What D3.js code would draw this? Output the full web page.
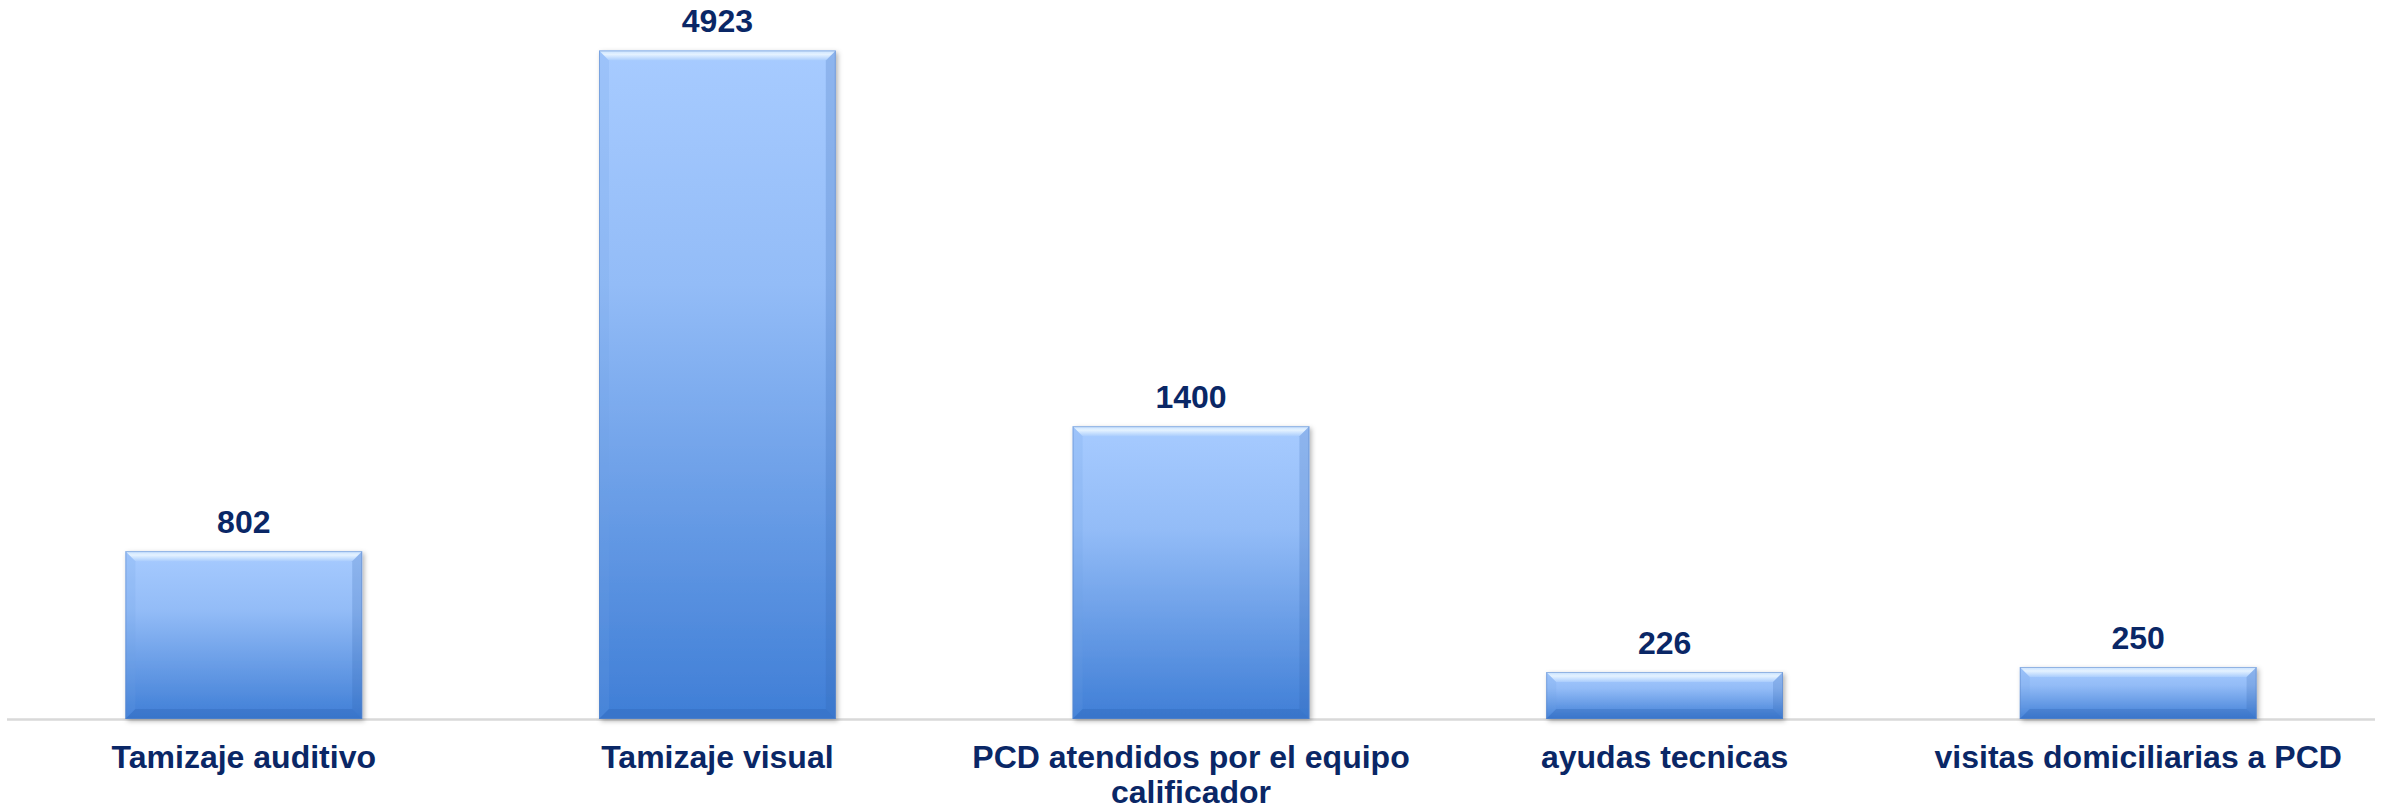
<!DOCTYPE html>
<html>
<head>
<meta charset="utf-8">
<script src="https://cdn.jsdelivr.net/npm/d3@7"></script>
<style>
  html, body { margin: 0; padding: 0; background: #fff; }
  svg { display: block; }
</style>
</head>
<body>
<svg width="2392" height="808"></svg>
<script>
const categories = [
  "Tamizaje auditivo",
  "Tamizaje visual",
  "PCD atendidos por el equipo calificador",
  "ayudas tecnicas",
  "visitas domiciliarias a PCD",
];
// numbers printed above the bars
const labelValues = [802, 4923, 1400, 226, 250];
// bar heights as drawn in the picture (same axis units)
const barValues = [1236, 4923, 2156, 346, 383];
const yDomain = [0, 5000];

const baseY = 719;

const svg = d3.select("svg");
const defs = svg.append("defs");

const x = d3
  .scaleBand()
  .domain(categories)
  .range([7, 2375])
  .paddingInner(0.5)
  .paddingOuter(0.25);

const y = d3.scaleLinear().domain(yDomain).range([baseY, 40]);

// fill gradient, light at top, deeper blue at bottom
const grad = defs
  .append("linearGradient")
  .attr("id", "barFill")
  .attr("x1", 0)
  .attr("x2", 0)
  .attr("y1", 0)
  .attr("y2", 1);
grad.append("stop").attr("offset", "0%").attr("stop-color", "#a7cbff");
grad.append("stop").attr("offset", "35%").attr("stop-color", "#93bcf7");
grad.append("stop").attr("offset", "100%").attr("stop-color", "#3f7ed6");

const topBevel = defs
  .append("linearGradient")
  .attr("id", "topBevel")
  .attr("x1", 0)
  .attr("x2", 0)
  .attr("y1", 0)
  .attr("y2", 1);
topBevel.append("stop").attr("offset", "0%").attr("stop-color", "#c6e0ff");
topBevel.append("stop").attr("offset", "40%").attr("stop-color", "#e4f2ff");
topBevel.append("stop").attr("offset", "100%").attr("stop-color", "#aacdfd");

const shadow = defs
  .append("filter")
  .attr("id", "shadow")
  .attr("x", "-5%")
  .attr("y", "-5%")
  .attr("width", "115%")
  .attr("height", "120%");
shadow
  .append("feDropShadow")
  .attr("dx", 2)
  .attr("dy", 2)
  .attr("stdDeviation", 2.5)
  .attr("flood-color", "#000")
  .attr("flood-opacity", 0.3);

// baseline
svg
  .append("line")
  .attr("x1", 7)
  .attr("x2", 2375)
  .attr("y1", baseY + 0.5)
  .attr("y2", baseY + 0.5)
  .attr("stroke", "#d9d9d9")
  .attr("stroke-width", 2.5);

const bev = 10;
const bars = svg
  .append("g")
  .selectAll("g")
  .data(categories.map((c, i) => ({ c, v: barValues[i], label: labelValues[i] })))
  .join("g");

bars
  .append("rect")
  .attr("x", (d) => x(d.c))
  .attr("y", (d) => y(d.v))
  .attr("width", x.bandwidth())
  .attr("height", (d) => baseY - y(d.v))
  .attr("fill", "url(#barFill)")
  .attr("filter", "url(#shadow)");

// bevel pieces
bars.each(function (d) {
  const g = d3.select(this);
  const x0 = x(d.c);
  const x1 = x0 + x.bandwidth();
  const y0 = y(d.v);
  const y1 = baseY;
  const b = Math.min(bev, (y1 - y0) / 3);
  // top
  g.append("path")
    .attr("d", `M${x0},${y0}L${x1},${y0}L${x1 - b},${y0 + b}L${x0 + b},${y0 + b}Z`)
    .attr("fill", "url(#topBevel)");
  // left
  g.append("path")
    .attr("d", `M${x0},${y0}L${x0 + b},${y0 + b}L${x0 + b},${y1 - b}L${x0},${y1}Z`)
    .attr("fill", "#6f9fe6")
    .attr("opacity", 0.18);
  // right
  g.append("path")
    .attr("d", `M${x1},${y0}L${x1 - b},${y0 + b}L${x1 - b},${y1 - b}L${x1},${y1}Z`)
    .attr("fill", "#2f5fa8")
    .attr("opacity", 0.2);
  // bottom
  g.append("path")
    .attr("d", `M${x0},${y1}L${x0 + b},${y1 - b}L${x1 - b},${y1 - b}L${x1},${y1}Z`)
    .attr("fill", "#2b5fae")
    .attr("opacity", 0.3);
  // thin outline
  g.append("rect")
    .attr("x", x0 + 0.5)
    .attr("y", y0 + 0.5)
    .attr("width", x.bandwidth() - 1)
    .attr("height", y1 - y0 - 1)
    .attr("fill", "none")
    .attr("stroke", "#5a86c8")
    .attr("stroke-opacity", 0.5);
});

const font = "'Liberation Sans', Arial, sans-serif";
const textColor = "#0a2766";

// value labels
bars
  .append("text")
  .attr("x", (d) => x(d.c) + x.bandwidth() / 2)
  .attr("y", (d) => y(d.v) - 18)
  .attr("text-anchor", "middle")
  .attr("font-family", font)
  .attr("font-weight", "bold")
  .attr("font-size", 32)
  .attr("fill", textColor)
  .text((d) => d.label);

// category labels, wrapped to the band step
const labels = svg
  .append("g")
  .selectAll("text")
  .data(categories)
  .join("text")
  .attr("x", (d) => x(d) + x.bandwidth() / 2)
  .attr("y", 768)
  .attr("text-anchor", "middle")
  .attr("font-family", font)
  .attr("font-weight", "bold")
  .attr("font-size", 32)
  .attr("fill", textColor);

labels.each(function (d) {
  const t = d3.select(this);
  const maxW = x.step() - 20;
  const words = d.split(" ");
  let line = [];
  let tspan = t.append("tspan").attr("x", t.attr("x")).attr("dy", 0);
  for (const w of words) {
    line.push(w);
    tspan.text(line.join(" "));
    if (tspan.node().getComputedTextLength() > maxW && line.length > 1) {
      line.pop();
      tspan.text(line.join(" "));
      line = [w];
      tspan = t.append("tspan").attr("x", t.attr("x")).attr("dy", 35).text(w);
    }
  }
});
</script>
</body>
</html>
